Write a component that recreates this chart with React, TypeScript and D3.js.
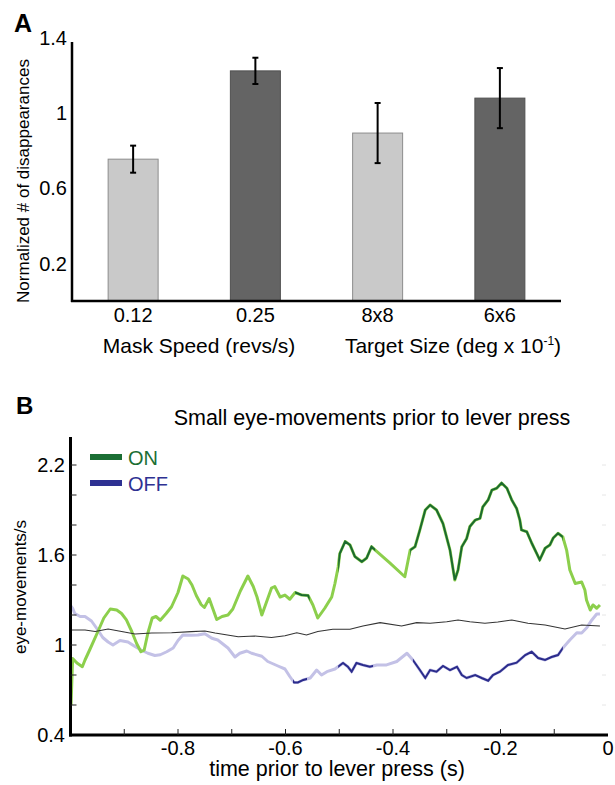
import React from "react";
import * as d3 from "d3";

const W = 615;
const H = 785;
const FONT = "'Liberation Sans', Arial, Helvetica, sans-serif";

// ---- panel A data ----
const barLabels = ["0.12", "0.25", "8x8", "6x6"];
const barMeans = [0.755, 1.225, 0.894, 1.08];
const barErrors = [0.072, 0.07, 0.16, 0.16];
const barShades = ["light", "dark", "light", "dark"];
const yTicksA = [0.2, 0.6, 1, 1.4];

// ---- panel B data: [time (s), eye-movements/s] ----
const onTrace: [number, number][] = [
  [-0.999, 0.6], [-0.996, 0.91], [-0.988, 0.88], [-0.978, 0.855], [-0.973, 0.9],
  [-0.964, 0.97], [-0.949, 1.09], [-0.938, 1.18], [-0.926, 1.24], [-0.914, 1.233],
  [-0.905, 1.21], [-0.896, 1.167], [-0.886, 1.09], [-0.877, 1.01], [-0.869, 0.955],
  [-0.863, 0.965], [-0.856, 1.08], [-0.848, 1.18], [-0.841, 1.19], [-0.833, 1.165],
  [-0.822, 1.21], [-0.812, 1.255], [-0.8, 1.35], [-0.791, 1.46], [-0.781, 1.44],
  [-0.774, 1.4], [-0.766, 1.33], [-0.757, 1.27], [-0.751, 1.25], [-0.742, 1.31],
  [-0.735, 1.24], [-0.728, 1.17], [-0.718, 1.19], [-0.707, 1.2], [-0.698, 1.24],
  [-0.684, 1.36], [-0.67, 1.46], [-0.66, 1.39], [-0.653, 1.32], [-0.644, 1.2],
  [-0.636, 1.28], [-0.626, 1.38], [-0.62, 1.39], [-0.61, 1.32], [-0.601, 1.333],
  [-0.592, 1.305], [-0.582, 1.35], [-0.57, 1.333], [-0.558, 1.33], [-0.549, 1.267],
  [-0.54, 1.18], [-0.527, 1.245], [-0.514, 1.32], [-0.508, 1.41], [-0.502, 1.52],
  [-0.499, 1.61], [-0.489, 1.69], [-0.48, 1.667], [-0.471, 1.59], [-0.458, 1.555],
  [-0.449, 1.58], [-0.44, 1.655], [-0.433, 1.633], [-0.406, 1.547], [-0.378, 1.455],
  [-0.368, 1.633], [-0.359, 1.655], [-0.35, 1.767], [-0.34, 1.9], [-0.331, 1.933],
  [-0.319, 1.9], [-0.307, 1.81], [-0.294, 1.633], [-0.285, 1.433], [-0.279, 1.5],
  [-0.272, 1.655], [-0.263, 1.71], [-0.257, 1.79], [-0.247, 1.833], [-0.238, 1.845],
  [-0.233, 1.92], [-0.223, 1.967], [-0.216, 2.033], [-0.207, 2.045], [-0.198, 2.08],
  [-0.188, 2.045], [-0.179, 1.967], [-0.17, 1.91], [-0.164, 1.833], [-0.161, 1.767],
  [-0.151, 1.755], [-0.142, 1.68], [-0.133, 1.613], [-0.127, 1.567], [-0.117, 1.645],
  [-0.108, 1.667], [-0.102, 1.713], [-0.093, 1.745], [-0.084, 1.72], [-0.077, 1.633],
  [-0.071, 1.5], [-0.061, 1.41], [-0.049, 1.42], [-0.043, 1.367], [-0.04, 1.3],
  [-0.033, 1.233], [-0.028, 1.267], [-0.021, 1.245], [-0.015, 1.267],
];

const offTrace: [number, number][] = [
  [-0.999, 1.26], [-0.996, 1.245], [-0.992, 1.21], [-0.982, 1.19], [-0.973, 1.19],
  [-0.961, 1.16], [-0.949, 1.1], [-0.94, 1.05], [-0.93, 1.02], [-0.921, 1.0],
  [-0.908, 1.03], [-0.893, 1.02], [-0.88, 0.99], [-0.868, 0.965], [-0.856, 0.945],
  [-0.843, 0.93], [-0.833, 0.935], [-0.821, 0.955], [-0.809, 0.98], [-0.8, 1.03],
  [-0.791, 1.067], [-0.775, 1.065], [-0.763, 1.067], [-0.75, 1.075], [-0.737, 1.045],
  [-0.726, 1.033], [-0.707, 0.98], [-0.694, 0.92], [-0.685, 0.945], [-0.672, 0.96],
  [-0.663, 0.945], [-0.644, 0.925], [-0.633, 0.89], [-0.614, 0.86], [-0.601, 0.84],
  [-0.592, 0.79], [-0.584, 0.75], [-0.577, 0.75], [-0.567, 0.767], [-0.554, 0.78],
  [-0.542, 0.833], [-0.533, 0.8], [-0.523, 0.822], [-0.508, 0.84], [-0.493, 0.88],
  [-0.484, 0.855], [-0.477, 0.822], [-0.468, 0.88], [-0.456, 0.867], [-0.443, 0.855],
  [-0.43, 0.867], [-0.412, 0.867], [-0.393, 0.89], [-0.374, 0.945], [-0.363, 0.9],
  [-0.35, 0.833], [-0.34, 0.78], [-0.331, 0.833], [-0.319, 0.822], [-0.307, 0.86],
  [-0.294, 0.833], [-0.281, 0.855], [-0.272, 0.8], [-0.263, 0.78], [-0.247, 0.8],
  [-0.235, 0.78], [-0.223, 0.762], [-0.214, 0.8], [-0.201, 0.822], [-0.186, 0.867],
  [-0.17, 0.882], [-0.154, 0.933], [-0.142, 0.955], [-0.13, 0.913], [-0.117, 0.9],
  [-0.105, 0.92], [-0.093, 0.933], [-0.084, 0.98], [-0.071, 1.033], [-0.058, 1.082],
  [-0.049, 1.08], [-0.04, 1.113], [-0.03, 1.167], [-0.021, 1.207], [-0.015, 1.207],
];

const meanTrace: [number, number][] = [
  [-0.999, 1.1], [-0.973, 1.1], [-0.954, 1.09], [-0.93, 1.107], [-0.905, 1.09],
  [-0.88, 1.073], [-0.849, 1.08], [-0.812, 1.082], [-0.775, 1.089], [-0.75, 1.093],
  [-0.731, 1.08], [-0.688, 1.055], [-0.657, 1.06], [-0.626, 1.05], [-0.601, 1.062],
  [-0.579, 1.082], [-0.561, 1.067], [-0.54, 1.09], [-0.512, 1.105], [-0.48, 1.105],
  [-0.456, 1.127], [-0.424, 1.149], [-0.384, 1.127], [-0.356, 1.149], [-0.331, 1.145],
  [-0.3, 1.155], [-0.279, 1.167], [-0.257, 1.155], [-0.229, 1.145], [-0.205, 1.153],
  [-0.179, 1.167], [-0.149, 1.145], [-0.117, 1.133], [-0.08, 1.107], [-0.049, 1.133],
  [-0.015, 1.127],
];

// time windows drawn in the dark shade
const onSignificant = [[-0.582, -0.555], [-0.502, -0.433], [-0.368, -0.084]];
const offSignificant = [[-0.586, -0.56], [-0.502, -0.437], [-0.363, -0.084]];

const yTicksB = [0.6, 0.8, 1, 1.2, 1.4, 1.6, 1.8, 2, 2.2];
const yLabelsB = [0.4, 1, 1.6, 2.2];
const xTicksB = [-0.9, -0.8, -0.7, -0.6, -0.5, -0.4, -0.3, -0.2, -0.1];
const xLabelsB = [-0.8, -0.6, -0.4, -0.2, 0];

const fmt = (v: number) => String(+v.toFixed(1));

function PanelA() {
  const left = 72;
  const right = 561;
  const y = d3.scaleLinear().domain([0, 1.4]).range([301, 38]);
  const x = d3.scalePoint<string>().domain(barLabels).range([left, right]).padding(0.5);
  const barW = 50;

  return (
    <g fontFamily={FONT}>
      <text x={14} y={32} fontSize={25} fontWeight="bold">A</text>
      {barLabels.map((lab, i) => {
        const cx = x(lab)!;
        const light = barShades[i] === "light";
        const hi = y(barMeans[i] + barErrors[i]);
        const lo = y(barMeans[i] - barErrors[i]);
        return (
          <g key={lab}>
            <rect
              x={cx - barW / 2}
              y={y(barMeans[i])}
              width={barW}
              height={y(0) - y(barMeans[i])}
              fill={light ? "#c9c9c9" : "#646464"}
              stroke={light ? "#8c8c8c" : "#505050"}
              strokeWidth={1}
            />
            <line x1={cx} x2={cx} y1={hi} y2={lo} stroke="#000" strokeWidth={2} />
            <line x1={cx - 3} x2={cx + 3} y1={hi} y2={hi} stroke="#000" strokeWidth={2} />
            <line x1={cx - 3} x2={cx + 3} y1={lo} y2={lo} stroke="#000" strokeWidth={2} />
            <text x={cx} y={322} fontSize={20} textAnchor="middle">{lab}</text>
          </g>
        );
      })}
      <line x1={left} x2={left} y1={y(0) + 1} y2={42} stroke="#000" strokeWidth={2.5} />
      <line x1={left - 1} x2={right} y1={y(0)} y2={y(0)} stroke="#000" strokeWidth={2.5} />
      {yTicksA.map((t) => (
        <text key={t} x={67} y={y(t)} dy="0.36em" fontSize={20} textAnchor="end">{fmt(t)}</text>
      ))}
      <text transform={`translate(29,181) rotate(-90)`} fontSize={17} textAnchor="middle">
        Normalized # of disappearances
      </text>
      <text x={199} y={353} fontSize={21} textAnchor="middle">Mask Speed (revs/s)</text>
      <text x={453} y={353} fontSize={21} textAnchor="middle">
        Target Size (deg x 10<tspan dy={-8} fontSize={12}>-1</tspan><tspan dy={8}>)</tspan>
      </text>
    </g>
  );
}

function PanelB() {
  const x = d3.scaleLinear().domain([-1, 0]).range([70.5, 608]);
  const y = d3.scaleLinear().domain([0.4, 2.4]).range([735, 435]);
  const line = d3
    .line<[number, number]>()
    .x((d) => x(d[0]))
    .y((d) => y(d[1]));

  const clips = (id: string, spans: number[][]) => (
    <clipPath id={id}>
      {spans.map((s, i) => (
        <rect key={i} x={x(s[0])} y={430} width={x(s[1]) - x(s[0])} height={310} />
      ))}
    </clipPath>
  );

  return (
    <g fontFamily={FONT}>
      <defs>
        {clips("on-sig", onSignificant)}
        {clips("off-sig", offSignificant)}
      </defs>
      <text x={16} y={414} fontSize={24} fontWeight="bold">B</text>
      <text x={372} y={425} fontSize={21.5} textAnchor="middle">
        Small eye-movements prior to lever press
      </text>

      {/* faint right-side ticks */}
      {yTicksB.map((t) => (
        <line key={"r" + t} x1={602} x2={606} y1={y(t)} y2={y(t)} stroke="#e6e6e6" strokeWidth={1} />
      ))}

      <path d={line(offTrace)!} fill="none" stroke="#c3c1e6" strokeWidth={3} strokeLinejoin="round" />
      <path d={line(offTrace)!} fill="none" stroke="#2b2c8c" strokeWidth={2} clipPath="url(#off-sig)" />
      <path d={line(onTrace)!} fill="none" stroke="#8ccf4c" strokeWidth={3} strokeLinejoin="round" />
      <path d={line(onTrace)!} fill="none" stroke="#1b6a30" strokeWidth={2} clipPath="url(#on-sig)" />
      <path d={line(meanTrace)!} fill="none" stroke="#333" strokeWidth={1.1} />

      {/* axes */}
      <line x1={x(-1)} x2={x(-1)} y1={y(0.4) + 1.5} y2={437} stroke="#000" strokeWidth={3} />
      <line x1={x(-1) - 1.5} x2={x(0)} y1={y(0.4)} y2={y(0.4)} stroke="#000" strokeWidth={3} />
      {yTicksB.map((t) => (
        <line key={t} x1={x(-1)} x2={x(-1) + 6} y1={y(t)} y2={y(t)} stroke="#222" strokeWidth={1} />
      ))}
      {xTicksB.map((t) => (
        <line key={t} x1={x(t)} x2={x(t)} y1={y(0.4)} y2={y(0.4) - 6} stroke="#222" strokeWidth={1} />
      ))}
      {yLabelsB.map((t) => (
        <text key={t} x={65} y={y(t)} dy="0.36em" fontSize={20} textAnchor="end">{fmt(t)}</text>
      ))}
      {xLabelsB.map((t) => (
        <text key={t} x={x(t)} y={755} fontSize={20} textAnchor="middle">{fmt(t)}</text>
      ))}
      <text x={337} y={776} fontSize={21.5} textAnchor="middle">time prior to lever press (s)</text>
      <text transform={`translate(26,587) rotate(-90)`} fontSize={17} textAnchor="middle">
        eye-movements/s
      </text>

      {/* legend */}
      <line x1={90} x2={122} y1={457} y2={457} stroke="#1b6e34" strokeWidth={6} />
      <text x={128} y={465} fontSize={20} fill="#1b6e34">ON</text>
      <line x1={90} x2={122} y1={483} y2={483} stroke="#2e3192" strokeWidth={6} />
      <text x={128} y={491} fontSize={20} fill="#2e3192">OFF</text>
    </g>
  );
}

export default function App() {
  return (
    <svg
      width={W}
      height={H}
      viewBox={`0 0 ${W} ${H}`}
      style={{ position: "absolute", left: 0, top: 0, background: "#fff" }}
    >
      <rect width={W} height={H} fill="#fff" />
      <PanelA />
      <PanelB />
    </svg>
  );
}
